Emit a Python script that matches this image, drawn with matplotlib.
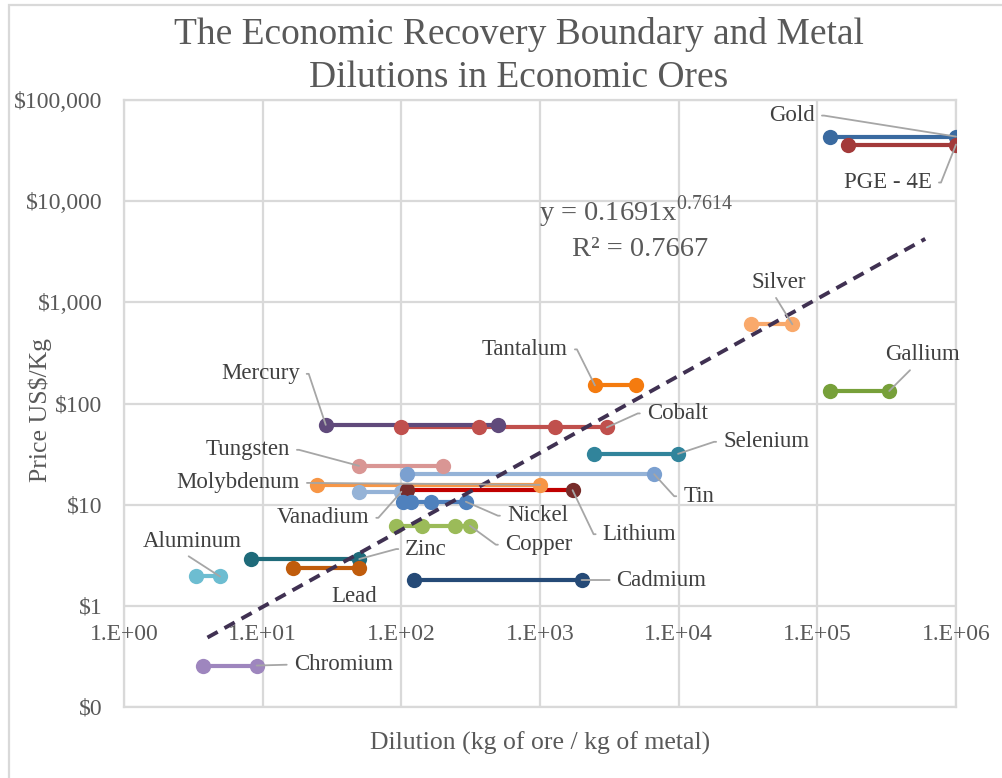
import numpy as np
import matplotlib
matplotlib.use("Agg")
import matplotlib.pyplot as plt
from matplotlib.patches import Rectangle
from matplotlib.ticker import FixedLocator, FuncFormatter, NullLocator

plt.rcParams['font.family'] = ['Liberation Serif', 'DejaVu Serif']
plt.rcParams['mathtext.fontset'] = 'custom'
plt.rcParams['mathtext.rm'] = 'Liberation Serif'

# metal name, dilution points (kg ore / kg metal), price (US$/kg)
metals = ['Gold', 'PGE - 4E', 'Silver', 'Gallium', 'Tantalum', 'Cobalt', 'Mercury',
          'Selenium', 'Tungsten', 'Tin', 'Molybdenum', 'Vanadium', 'Lithium', 'Nickel',
          'Copper', 'Zinc', 'Lead', 'Aluminum', 'Cadmium', 'Chromium']
dilution = [
    [1.23e5, 1.0e6],
    [1.66e5, 1.0e6],
    [3.3e4, 6.6e4],
    [1.23e5, 3.3e5],
    [2490, 4900],
    [100, 363, 1280, 3030],
    [28.5, 494],
    [2460, 9900],
    [49.5, 199],
    [110, 6660],
    [24.8, 1000],
    [49.8, 100],
    [109, 1718],
    [103, 117, 165, 292],
    [91.4, 140, 243, 312],
    [8.24, 49.7],
    [16.5, 49.7],
    [3.3, 4.92],
    [123, 1995],
    [3.73, 9.05],
]
price = [43500, 36300, 607, 133, 151, 58, 61.5, 31.8, 24.2, 20.0, 15.7, 13.4, 13.9,
         10.7, 6.2, 2.9, 2.35, 1.95, 1.8, 0.257]

line_colors = ['#3A6AA0', '#A33A3A', '#F9A96B', '#77A03A', '#F47B0F', '#C0504D', '#604A7B',
               '#31849B', '#D99694', '#95B3D7', '#F79646', '#95B3D7', '#C00000', '#4F81BD',
               '#9BBB59', '#1F6B7A', '#C05C0C', '#6DBDD1', '#254A77', '#9E86BE']
marker_colors = list(line_colors)
marker_colors[12] = '#772C2A'   # lithium markers darker than its line
marker_colors[9] = '#7BA0D0'

# trendline from Excel power fit
trend_a, trend_b = 0.1691, 0.7614
trend_x = np.logspace(np.log10(4.0), np.log10(6.0e5), 50)

# label placement: offset in pixels from the last point, alignment, leader style
label_offset = {
    'Gold': (-141, 21, 'right', 'arm'), 'PGE - 4E': (-24, -38, 'right', 'arm'),
    'Silver': (-14, 42, 'center', 'down'), 'Gallium': (33, 36, 'center', 'down'),
    'Tantalum': (-27, 36, 'right', 'arm'), 'Cobalt': (40, 14, 'left', 'arm'),
    'Mercury': (-26, 51, 'right', 'arm'), 'Selenium': (45, 12, 'left', 'arm'),
    'Tungsten': (-69, 16, 'right', 'arm'), 'Tin': (29, -22, 'left', 'arm'),
    'Molybdenum': (-240, 2, 'right', 'straight'), 'Vanadium': (-32, -26, 'right', 'arm'),
    'Lithium': (30, -44, 'left', 'arm'), 'Nickel': (41, -14, 'left', 'arm'),
    'Copper': (35, -19, 'left', 'arm'), 'Zinc': (46, 10, 'left', 'arm'),
    'Lead': (-5, -28, 'center', None), 'Aluminum': (-28, 35, 'center', 'down'),
    'Cadmium': (35, 0, 'left', 'straight'), 'Chromium': (37, 1, 'left', 'straight'),
}
label_target = {'Tantalum': 0, 'Mercury': 0, 'Tungsten': 0}

fig = plt.figure(figsize=(10.02, 7.78), dpi=100)
fig.patches.append(Rectangle((9 / 1002, -0.1), 1.2, (778 - 5) / 778 + 0.1,
                             transform=fig.transFigure, fill=False,
                             edgecolor='#d9d9d9', lw=1.6))
ax = fig.add_axes([124 / 1002, 1 - 707 / 778, (956 - 124) / 1002, (707 - 100) / 778])
ax.set_xscale('log')
ax.set_yscale('log')
ax.set_xlim(1, 1e6)
ax.set_ylim(0.1, 1e5)

ax.xaxis.set_major_locator(FixedLocator([10.0 ** k for k in range(7)]))
ax.xaxis.set_minor_locator(NullLocator())
ax.yaxis.set_major_locator(FixedLocator([10.0 ** k for k in range(-1, 6)]))
ax.yaxis.set_minor_locator(NullLocator())
ax.yaxis.set_major_formatter(FuncFormatter(lambda v, p: '${:,.0f}'.format(v)))
ax.tick_params(axis='y', length=0, labelsize=17, labelcolor='#595959', pad=15.5)
ax.tick_params(axis='x', length=0, labelbottom=False)
ax.grid(True, color='#d9d9d9', lw=1.6)
for s in ax.spines.values():
    s.set_color('#d9d9d9')
    s.set_linewidth(1.6)
ax.set_axisbelow(True)

# x tick labels sit on the $1 line like Excel does
for k in range(7):
    ax.annotate('1.E+0%d' % k, (10.0 ** k, 1), xytext=(0, -29), textcoords='offset pixels',
                ha='center', va='center', fontsize=17, color='#595959')

for i, name in enumerate(metals):
    xs = dilution[i]
    ys = [price[i]] * len(xs)
    ax.plot(xs, ys, color=line_colors[i], lw=3.0, solid_capstyle='butt', zorder=3)
    ax.plot(xs, ys, 'o', color=marker_colors[i], ms=11, mec='none', zorder=4)

ax.plot(trend_x, trend_a * trend_x ** trend_b, '--', color='#403152', lw=2.8,
        dashes=(3, 2), zorder=5)

for i, name in enumerate(metals):
    dx, dy, ha, style = label_offset[name]
    j = label_target.get(name, -1)
    pt = (dilution[i][j], price[i])
    arrow = None
    if style == 'arm':
        rel = (1, 0.5) if ha == 'right' else (0, 0.5)
        ang = 0 if ha == 'right' else 180
        arrow = dict(arrowstyle='-', color='#a6a6a6', lw=1.3, shrinkA=3, shrinkB=0,
                     relpos=rel,
                     connectionstyle='arc,angleA=%d,angleB=0,armA=9,armB=0,rad=0' % ang)
    elif style == 'straight':
        rel = (1, 0.5) if ha == 'right' else (0, 0.5)
        arrow = dict(arrowstyle='-', color='#a6a6a6', lw=1.3, shrinkA=3, shrinkB=0,
                     relpos=rel)
    elif style == 'down':
        arrow = dict(arrowstyle='-', color='#a6a6a6', lw=1.3, shrinkA=2, shrinkB=0,
                     relpos=(0.4, 0))
    ax.annotate(name, pt, xytext=(dx, dy), textcoords='offset pixels', ha=ha,
                va='center', fontsize=16.5, color='#404040', arrowprops=arrow, zorder=6)

ax.text(0.615, 0.816, r'y = 0.1691x$^{\mathrm{0.7614}}$', transform=ax.transAxes, ha='center',
        va='center', fontsize=20.5, color='#595959')
ax.text(0.62, 0.753, 'R² = 0.7667', transform=ax.transAxes, ha='center',
        va='center', fontsize=20.5, color='#595959')

fig.text(519 / 1002, 1 - 56 / 778, 'The Economic Recovery Boundary and Metal\nDilutions in Economic Ores',
         ha='center', va='center', fontsize=27, color='#595959', linespacing=1.3)
fig.text(540 / 1002, 1 - 743 / 778, 'Dilution (kg of ore / kg of metal)', ha='center',
         va='center', fontsize=18.5, color='#595959')
fig.text(40 / 1002, 1 - 410 / 778, 'Price US$/Kg', ha='center', va='center',
         rotation=90, fontsize=18.5, color='#595959')

fig.savefig('out.png', dpi=100)
